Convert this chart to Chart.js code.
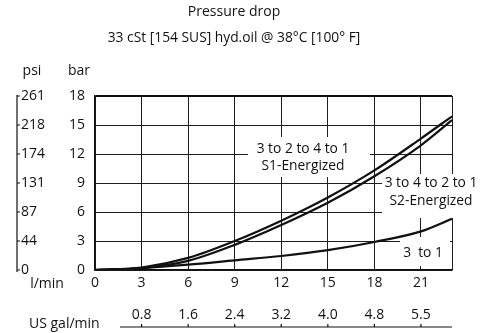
<!DOCTYPE html>
<html>
<head>
<meta charset="utf-8">
<script src="https://cdn.jsdelivr.net/npm/chart.js@4.4.1/dist/chart.umd.min.js"></script>
<style>
  html, body { margin: 0; padding: 0; background: #fff; }
  #wrap { width: 492px; height: 333px; }
</style>
</head>
<body>
<div id="wrap"><canvas id="chart" width="492" height="333"></canvas></div>
<script>
// flow in l/min, pressure drop in bar
const flow = [0, 3, 6, 9, 12, 15, 18, 21, 23];
const s1Drop = [0, 0.25, 1.25, 3.0, 5.1, 7.5, 10.3, 13.6, 15.9];
const s2Drop = [0, 0.2, 0.95, 2.6, 4.65, 6.95, 9.7, 12.9, 15.5];
const oneDrop = [0, 0.2, 0.55, 1.0, 1.45, 2.05, 2.9, 4.0, 5.3];

const flowTicks = [0, 3, 6, 9, 12, 15, 18, 21];
const barTicks = [0, 3, 6, 9, 12, 15, 18];
const psiLabels = ['0', '44', '87', '131', '174', '218', '261'];
const galFlow = [3, 6, 9, 12, 15, 18, 21];
const galLabels = ['0.8', '1.6', '2.4', '3.2', '4.0', '4.8', '5.5'];

const FONT = '"Open Sans", "Noto Sans", sans-serif';
const INK = '#111';

function points(ys) {
  return flow.map((x, i) => ({ x: x, y: ys[i] }));
}

function curve(label, ys) {
  return {
    label: label,
    data: points(ys),
    borderColor: INK,
    borderWidth: 2.2,
    pointRadius: 0,
    fill: false,
    cubicInterpolationMode: 'monotone'
  };
}

// white label boxes, drawn over the grid but under the curves
const curveLabels = {
  id: 'curveLabels',
  beforeDatasetsDraw(chart) {
    const ctx = chart.ctx;
    const boxes = [
      { x: 248, y: 137, w: 122, h: 40, lines: ['3 to 2 to 4 to 1', 'S1-Energized'], cx: 303, cy: [149, 166] },
      { x: 382, y: 174, w: 104, h: 44, lines: ['3 to 4 to 2 to 1', 'S2-Energized'], cx: 431, cy: [183, 201] },
      { x: 400, y: 237, w: 50, h: 29, lines: ['3  to 1'], cx: 423, cy: [253] }
    ];
    ctx.save();
    ctx.font = '13.8px ' + FONT;
    ctx.textAlign = 'center';
    ctx.textBaseline = 'middle';
    boxes.forEach(b => {
      ctx.fillStyle = '#fff';
      ctx.fillRect(b.x, b.y, b.w, b.h);
      ctx.fillStyle = INK;
      b.lines.forEach((t, i) => ctx.fillText(t, b.cx, b.cy[i]));
    });
    ctx.restore();
  }
};

// titles, psi scale and US gal/min scale
const extraAxes = {
  id: 'extraAxes',
  afterDraw(chart) {
    const ctx = chart.ctx;
    const xs = chart.scales.x;
    const ys = chart.scales.y;
    ctx.save();
    ctx.fillStyle = INK;
    ctx.strokeStyle = INK;
    ctx.textBaseline = 'middle';

    ctx.textAlign = 'center';
    ctx.font = '14px ' + FONT;
    ctx.fillText('Pressure drop', 234, 12);
    ctx.font = '13.8px ' + FONT;
    ctx.fillText('33 cSt [154 SUS] hyd.oil @ 38\u00B0C [100\u00B0 F]', 234, 38);

    ctx.font = '14px ' + FONT;
    ctx.fillText('psi', 32, 71);
    ctx.fillText('bar', 79, 71);
    ctx.fillText('l/min', 47, 284);

    // psi axis
    ctx.lineWidth = 1.2;
    ctx.beginPath();
    ctx.moveTo(17, ys.getPixelForValue(18) - 1);
    ctx.lineTo(17, ys.getPixelForValue(0) + 2);
    barTicks.forEach(v => {
      const py = ys.getPixelForValue(v);
      ctx.moveTo(17, py);
      ctx.lineTo(20, py);
    });
    ctx.stroke();
    ctx.textAlign = 'left';
    psiLabels.forEach((t, i) => {
      ctx.fillText(t, 21, ys.getPixelForValue(barTicks[i]));
    });

    // US gal/min axis
    const gy = 327;
    ctx.beginPath();
    ctx.moveTo(120, gy);
    ctx.lineTo(xs.getPixelForValue(23), gy);
    galFlow.forEach(v => {
      const px = xs.getPixelForValue(v);
      ctx.moveTo(px, gy);
      ctx.lineTo(px, gy - 3);
    });
    ctx.stroke();
    ctx.textAlign = 'center';
    galFlow.forEach((v, i) => {
      ctx.fillText(galLabels[i], xs.getPixelForValue(v), 315);
    });
    ctx.textAlign = 'left';
    ctx.fillText('US gal/min', 29, 324);
    ctx.restore();
  }
};

new Chart(document.getElementById('chart'), {
  type: 'line',
  data: {
    datasets: [
      curve('3 to 2 to 4 to 1 S1-Energized', s1Drop),
      curve('3 to 4 to 2 to 1 S2-Energized', s2Drop),
      curve('3 to 1', oneDrop)
    ]
  },
  options: {
    responsive: false,
    animation: false,
    layout: { padding: { top: 96, right: 40, bottom: 0, left: 0 } },
    plugins: {
      legend: { display: false },
      tooltip: { enabled: false }
    },
    scales: {
      x: {
        type: 'linear',
        min: 0,
        max: 23,
        afterBuildTicks: s => { s.ticks = flowTicks.concat([23]).map(v => ({ value: v })); },
        afterFit: s => { s.height = 63; },
        ticks: {
          callback: v => (v === 23 ? '' : v),
          color: INK,
          font: { family: FONT, size: 14 },
          padding: 5,
          maxRotation: 0,
          autoSkip: false
        },
        grid: { color: '#1e1e1e', lineWidth: 1, drawTicks: false },
        border: { color: INK, width: 1.5 }
      },
      y: {
        type: 'linear',
        min: 0,
        max: 18,
        afterBuildTicks: s => { s.ticks = barTicks.map(v => ({ value: v })); },
        afterFit: s => { s.width = 95; },
        ticks: {
          color: INK,
          font: { family: FONT, size: 14 },
          padding: 10
        },
        grid: {
          color: ctx => (ctx.tick && ctx.tick.value === 18 ? INK : '#1e1e1e'),
          lineWidth: ctx => (ctx.tick && ctx.tick.value === 18 ? 2 : 1),
          drawTicks: false
        },
        border: { color: INK, width: 1.5 }
      }
    }
  },
  plugins: [curveLabels, extraAxes]
});
</script>
</body>
</html>
